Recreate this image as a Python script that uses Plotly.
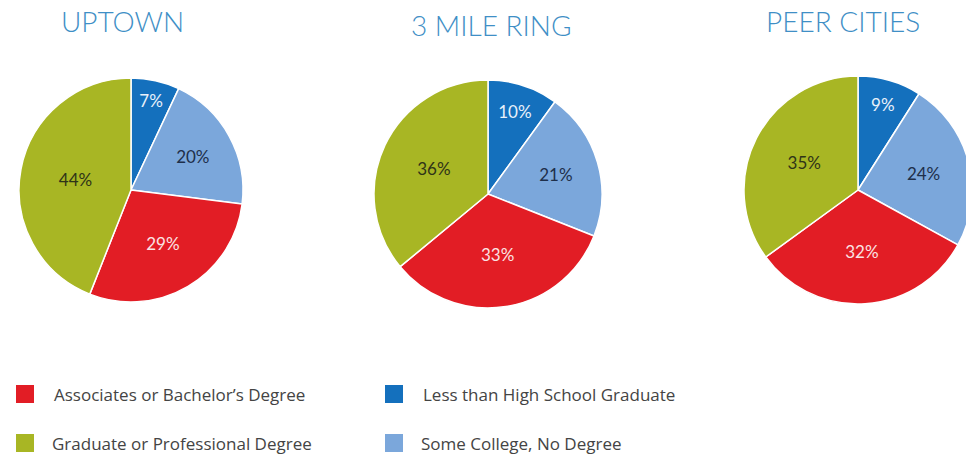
import plotly.graph_objects as go

# Educational attainment shares (%) by area, clockwise from 12 o'clock
categories = [
    "Less than High School Graduate",
    "Some College, No Degree",
    "Associates or Bachelor\u2019s Degree",
    "Graduate or Professional Degree",
]
regions = ["UPTOWN", "3 MILE RING", "PEER CITIES"]
uptown = [7, 20, 29, 44]
three_mile_ring = [10, 21, 33, 36]
peer_cities = [9, 24, 32, 35]
series = [uptown, three_mile_ring, peer_cities]

slice_colors = ["#1470bd", "#7ba7db", "#e21d25", "#a8b624"]
label_colors = ["#e8f0fa", "#1e2f4a", "#fbe3e3", "#2f3318"]

W, H = 976, 457  # slightly wider than the viewport so the last pie is trimmed


def px_x(x):
    return x / W


def px_y(y):
    return 1 - y / H


# pie centre (x, y) and radius in pixels
pie_geom = [(131, 190, 112), (488, 194, 114), (858, 190, 114)]
title_pos = [(122, 21), (492, 25), (843, 21)]

fig = go.Figure()
for vals, (cx, cy, r) in zip(series, pie_geom):
    fig.add_trace(go.Pie(
        labels=categories,
        values=vals,
        sort=False,
        direction="clockwise",
        rotation=0,
        marker=dict(colors=slice_colors, line=dict(color="white", width=1.5)),
        texttemplate="%{value}%",
        textposition="inside",
        insidetextorientation="horizontal",
        textfont=dict(family="Lato", size=17, color=label_colors),
        hoverinfo="label+percent",
        showlegend=False,
        domain=dict(x=[px_x(cx - r), px_x(cx + r)],
                    y=[px_y(cy + r), px_y(cy - r)]),
    ))

annotations = []
for name, (tx, ty) in zip(regions, title_pos):
    annotations.append(dict(
        text=name, x=px_x(tx), y=px_y(ty), xref="paper", yref="paper",
        xanchor="center", yanchor="middle", showarrow=False,
        font=dict(family="Lato", size=28, color="#3f8fc6", weight=300),
    ))

# two-column legend drawn with shapes and annotations
legend_slots = {
    2: (25, 394, 52),
    3: (25, 443, 50),
    0: (394, 394, 421),
    1: (394, 443, 419),
}
shapes = []
for idx, (sx, sy, tx) in legend_slots.items():
    shapes.append(dict(
        type="rect", xref="paper", yref="paper",
        x0=px_x(sx - 9), x1=px_x(sx + 9), y0=px_y(sy + 9), y1=px_y(sy - 9),
        fillcolor=slice_colors[idx], line=dict(width=0),
    ))
    annotations.append(dict(
        text=categories[idx], x=px_x(tx), y=px_y(sy), xref="paper", yref="paper",
        xanchor="left", yanchor="middle", showarrow=False,
        font=dict(family="Open Sans", size=17, color="#444444"),
    ))

fig.update_layout(
    width=W, height=H,
    margin=dict(l=0, r=0, t=0, b=0),
    paper_bgcolor="white", plot_bgcolor="white",
    annotations=annotations, shapes=shapes,
)

fig.write_html(
    "out.html",
    post_script="document.body.style.margin='0';document.body.style.overflow='hidden';",
)
